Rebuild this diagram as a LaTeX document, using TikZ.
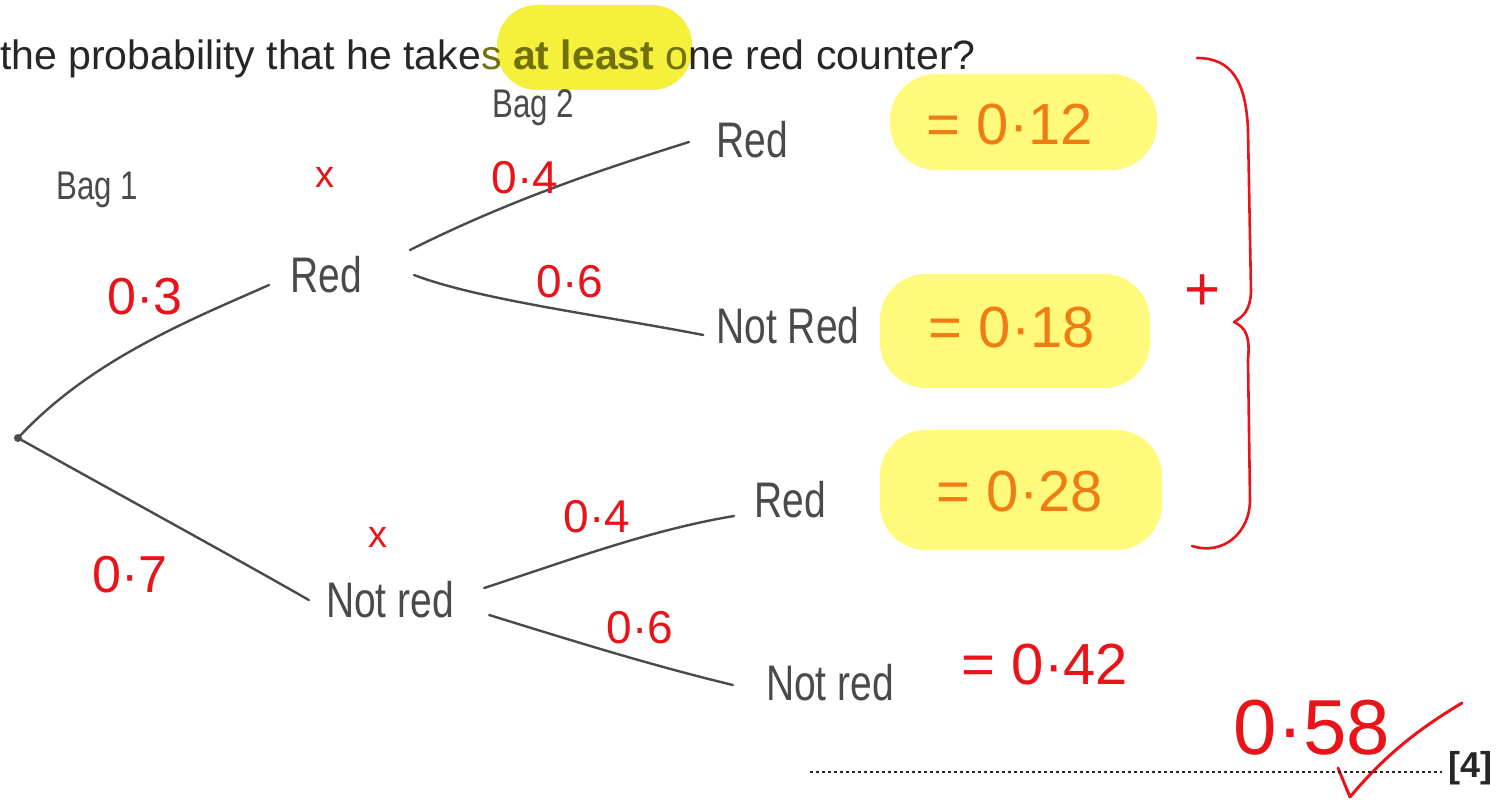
\documentclass[tikz,border=0pt]{standalone}
\usepackage{fontspec}
\setmainfont{Liberation Sans}
\usepackage{graphicx}
\definecolor{ink}{HTML}{4A4A4A}
\definecolor{pen}{HTML}{E8141A}
\definecolor{hl}{HTML}{FFF97C}
\definecolor{hlb}{HTML}{F4F03C}
\definecolor{org}{HTML}{F07D14}
\definecolor{olv}{HTML}{70700E}
\definecolor{prt}{HTML}{262626}
\newcommand{\hw}[1]{\scalebox{0.78}[1]{#1}}
\begin{document}
\begin{tikzpicture}[x=1pt,y=-1pt,
  hand/.style={text=ink, font=\fontsize{50}{54}\selectfont, inner sep=0pt},
  small hand/.style={text=ink, font=\fontsize{40}{44}\selectfont, inner sep=0pt},
  prob/.style={text=pen, font=\fontsize{52}{56}\selectfont, inner sep=0pt},
  sprob/.style={text=pen, font=\fontsize{46}{50}\selectfont, inner sep=0pt},
  res/.style={text=org, font=\fontsize{58}{60}\selectfont, inner sep=0pt},
  branch/.style={draw=ink, line width=2.4pt, line cap=round},
  redpen/.style={draw=pen, line width=2.6pt, line cap=round, line join=round},
  blob/.style={fill=hl, rounded corners=46pt}]
\useasboundingbox (0,0) rectangle (1497,800);
\fill[white] (0,0) rectangle (1497,800);

% header
\fill[hlb, rounded corners=40pt] (497,5) rectangle (692,90);
\node[anchor=base west, inner sep=0pt, text=prt, font=\fontsize{41}{46}\selectfont] (head) at (0,70)
  {the probability that he take{\color{olv}s \textbf{at least} o}ne red counter?};

% highlights
\fill[blob] (890,74) rectangle (1157,170);
\fill[blob] (880,274) rectangle (1150,388);
\fill[blob] (880,430) rectangle (1162,550);

% labels
\node[small hand] (bag1) at (97,190) {\hw{Bag 1}};
\node[small hand] (bag2) at (533,108) {\hw{Bag 2}};
\node[text=pen, font=\fontsize{38}{40}\selectfont, inner sep=0pt] (x1) at (325,177) {x};
\node[text=pen, font=\fontsize{38}{40}\selectfont, inner sep=0pt] (x2) at (378,537) {x};

% tree nodes
\fill[ink] (18,438) circle (4pt);
\node[inner sep=0pt, minimum size=8pt] (root) at (18,438) {};
\node[hand] (red1) at (326,275) {\hw{Red}};
\node[hand] (nr1) at (390,600) {\hw{Not red}};
\node[hand] (rr) at (752,140) {\hw{Red}};
\node[hand] (rn) at (788,326) {\hw{Not Red}};
\node[hand] (nrr) at (790,500) {\hw{Red}};
\node[hand] (nrn) at (830,683) {\hw{Not red}};

% branches
\draw[branch] (root.center) .. controls (90,360) and (190,320) .. ([xshift=-21pt,yshift=-10pt]red1.west);
\draw[branch] (root.center) .. controls (120,495) and (230,555) .. ([xshift=-17pt,yshift=0pt]nr1.west);
\draw[branch] ([xshift=48pt,yshift=25pt]red1.east) .. controls (510,200) and (600,170) .. ([xshift=-27pt,yshift=-2pt]rr.west);
\draw[branch] ([xshift=52pt,yshift=0pt]red1.east) .. controls (480,300) and (600,315) .. ([xshift=-13pt,yshift=-9pt]rn.west);
\draw[branch] ([xshift=30pt,yshift=12pt]nr1.east) .. controls (570,560) and (650,530) .. ([xshift=-20pt,yshift=-16pt]nrr.west);
\draw[branch] ([xshift=35pt,yshift=-15pt]nr1.east) .. controls (570,640) and (650,665) .. ([xshift=-33pt,yshift=-2pt]nrn.west);

% probabilities
\node[prob] (p03) at (145,297) {0·3};
\node[prob] (p07) at (130,575) {0·7};
\node[sprob] (p04a) at (525,178) {0·4};
\node[sprob] (p06a) at (570,282) {0·6};
\node[sprob] (p04b) at (597,517) {0·4};
\node[sprob] (p06b) at (640,628) {0·6};

% results
\node[res] (r1) at (1010,125) {= 0·12};
\node[res] (r2) at (1012,328) {= 0·18};
\node[res] (r3) at (1020,492) {= 0·28};
\node[prob, font=\fontsize{58}{60}\selectfont] (r4) at (1045,665) {= 0·42};
\node[prob, font=\fontsize{62}{64}\selectfont] (plus) at (1203,293) {+};

% brace
\draw[redpen] (1197,58) .. controls (1232,58) and (1246,82) .. (1248,130)
  -- (1251,292) .. controls (1250,310) and (1244,316) .. (1234,322)
  .. controls (1247,328) and (1250,338) .. (1248,360)
  -- (1250,500) .. controls (1250,532) and (1224,556) .. (1192,546);

% answer
\node[text=pen, font=\fontsize{78}{80}\selectfont, inner sep=0pt] (ans) at (1312,728) {0·58};
\coordinate (tickA) at (1338,768);
\coordinate (tickB) at (1350,797);
\coordinate (tickC) at (1462,703);
\draw[redpen, line width=3pt] (tickA) -- (tickB) .. controls (1385,755) and (1420,728) .. (tickC);

% answer line
\coordinate (dotA) at (810,772);
\coordinate (dotB) at (1442,772);
\draw[prt, line width=2.6pt, dash pattern=on 2.6pt off 3.4pt] (dotA) -- (dotB);
\node[anchor=west, inner sep=0pt, text=prt, font=\bfseries\fontsize{36}{38}\selectfont] (mark) at (1448,768) {[4]};
\end{tikzpicture}
\end{document}
